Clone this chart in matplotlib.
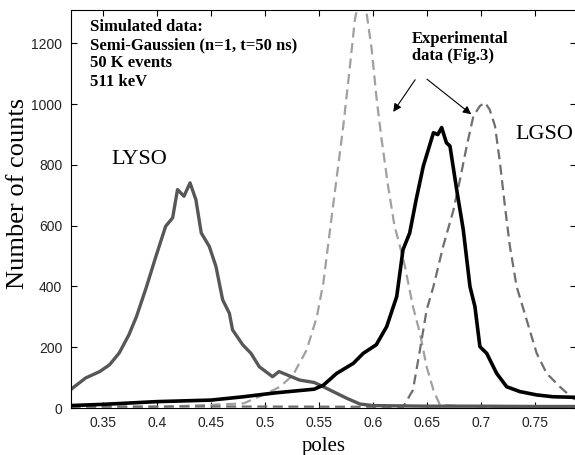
import numpy as np
import matplotlib
matplotlib.use("Agg")
import matplotlib.pyplot as plt

# simulated LYSO (dark gray, solid)
lyso_x = [0.32, 0.322, 0.334, 0.347, 0.356, 0.365, 0.374, 0.381, 0.390, 0.399, 0.408,
          0.4145, 0.419, 0.425, 0.4306, 0.436, 0.441, 0.4484, 0.4546, 0.4608, 0.467,
          0.470, 0.4794, 0.487, 0.4947, 0.507, 0.513, 0.532, 0.5456, 0.554, 0.5757,
          0.588, 0.60, 0.65, 0.70, 0.75, 0.79]
lyso_y = [60, 66, 99, 120, 142, 181, 241, 301, 396, 499, 598, 626, 719, 697, 741, 686,
          576, 532, 466, 356, 312, 257, 208, 180, 136, 103, 120, 92, 84, 70, 32, 13, 8,
          6, 6, 5, 5]

# simulated LGSO (black, solid)
lgso_x = [0.32, 0.35, 0.40, 0.45, 0.48, 0.51, 0.5456, 0.554, 0.5664, 0.5818, 0.591,
          0.603, 0.6127, 0.622, 0.6278, 0.634, 0.640, 0.6466, 0.656, 0.660, 0.6636,
          0.668, 0.6713, 0.6775, 0.6836, 0.6898, 0.6944, 0.699, 0.7053, 0.7145, 0.7238,
          0.736, 0.7516, 0.7667, 0.79]
lgso_y = [8, 12, 21, 26, 37, 50, 62, 75, 114, 147, 180, 208, 268, 367, 521, 576, 686,
          796, 906, 900, 923, 873, 862, 719, 587, 400, 334, 202, 180, 114, 70, 54, 43,
          37, 35]

# experimental LYSO (light gray, dashed)
exp1_x = [0.32, 0.40, 0.48, 0.5016, 0.514, 0.526, 0.5386, 0.548, 0.554, 0.563, 0.5725,
          0.5787, 0.5833, 0.588, 0.594, 0.5988, 0.6034, 0.608, 0.614, 0.620, 0.625,
          0.6296, 0.637, 0.6435, 0.6497, 0.656, 0.662, 0.70, 0.79]
exp1_y = [2, 3, 15, 48, 70, 109, 191, 300, 411, 664, 928, 1126, 1280, 1360, 1302, 1181,
          1016, 884, 730, 598, 532, 466, 334, 246, 136, 59, 10, 4, 3]

# experimental LGSO (mid gray, dashed)
exp2_x = [0.32, 0.45, 0.60, 0.628, 0.637, 0.6435, 0.6497, 0.656, 0.665, 0.6744, 0.6806,
          0.6868, 0.693, 0.699, 0.7037, 0.708, 0.713, 0.7176, 0.7222, 0.7268, 0.733,
          0.7423, 0.7516, 0.7608, 0.773, 0.785, 0.79]
exp2_y = [5, 5, 4, 4, 59, 191, 323, 400, 532, 650, 752, 862, 961, 994, 1005, 983, 928,
          807, 664, 532, 400, 290, 180, 114, 70, 32, 25]

xticks = [0.35, 0.4, 0.45, 0.5, 0.55, 0.6, 0.65, 0.7, 0.75]
xtick_labels = ["0.35", "0.4", "0.45", "0.5", "0.55", "0.6", "0.65", "0.7", "0.75"]
yticks = [0, 200, 400, 600, 800, 1000, 1200]

serif = "Liberation Serif"
sans = "Liberation Sans"

fig = plt.figure(figsize=(5.75, 4.55), dpi=100)
ax = fig.add_axes([70.6 / 575, 1 - 408 / 455, (576 - 70.6) / 575, 398 / 455])

ax.plot(exp1_x, exp1_y, color="#a0a0a0", lw=1.6, dashes=(4.5, 2.5))
ax.plot(exp2_x, exp2_y, color="#6e6e6e", lw=1.6, dashes=(4.5, 2.5))
ax.plot(lyso_x, lyso_y, color="#575757", lw=2.4)
ax.plot(lgso_x, lgso_y, color="black", lw=2.6)

ax.set_xlim(0.32, 0.788)
ax.set_ylim(0, 1310)
ax.set_xticks(xticks)
ax.set_xticklabels(xtick_labels)
ax.set_yticks(yticks)
ax.tick_params(direction="in", top=True, right=True, length=4, width=0.8,
               labelsize=10, pad=6)
for lab in ax.get_xticklabels() + ax.get_yticklabels():
    lab.set_family(sans)
    lab.set_color("#222222")

ax.set_xlabel("poles", family=serif, fontsize=15, labelpad=5)
ax.set_ylabel("Number of counts", family=serif, fontsize=19)
ax.yaxis.set_label_coords(-0.082, 0.538)

ax.text(0.3378, 1282, "Simulated data:\nSemi-Gaussien (n=1, t=50 ns)\n50 K events\n511 keV",
        family=serif, fontsize=12, fontweight="bold", va="top", ha="left",
        linespacing=1.2)
ax.text(0.384, 818, "LYSO", family=serif, fontsize=16, ha="center", va="center")
ax.text(0.7316, 884, "LGSO", family=serif, fontsize=16, ha="left", va="baseline")
ax.text(0.636, 1240, "Experimental\ndata (Fig.3)", family=serif, fontsize=12,
        fontweight="bold", ha="left", va="top", linespacing=1.1)

arrow = dict(arrowstyle="-|>", lw=0.8, color="black", mutation_scale=12)
ax.annotate("", xy=(0.6173, 967), xytext=(0.6405, 1088), arrowprops=arrow)
ax.annotate("", xy=(0.693, 961), xytext=(0.648, 1088), arrowprops=arrow)

fig.savefig("out.png", dpi=100)
